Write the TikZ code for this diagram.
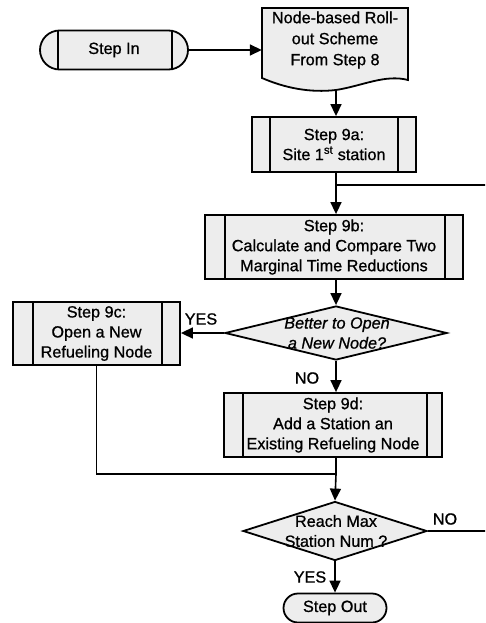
\documentclass[tikz,border=0pt]{standalone}
\usepackage{fontspec}
\setmainfont{Liberation Sans}[FakeBold=0.9]
\usetikzlibrary{shapes.geometric,shapes.misc,arrows.meta}

\begin{document}
\begin{tikzpicture}[x=1pt,y=-1pt,
  font=\fontsize{16.2}{20}\selectfont,
  shapefill/.style={fill=black!7},
  outline/.style={draw, line width=1.8pt, shapefill},
  sidebars/.style 2 args={path picture={
      \draw[line width=1.7pt]
        ([xshift=#1]path picture bounding box.north west) --
        ([xshift=#1]path picture bounding box.south west)
        ([xshift=-#2]path picture bounding box.north east) --
        ([xshift=-#2]path picture bounding box.south east);}},
  proc/.style={outline, rectangle, align=center, inner sep=0pt, sidebars={18pt}{18pt}},
  term/.style={outline, rounded rectangle, align=center, inner sep=0pt},
  dec/.style={outline, diamond, inner sep=0pt},
  dectext/.style={align=center, inner sep=0pt},
  lbl/.style={inner sep=0pt},
  line/.style={line width=1.6pt},
  arr/.style={line, -{Triangle[length=12pt,width=11pt]}},
]
\useasboundingbox (0,0) rectangle (485,623);
\clip (0,0) rectangle (485,623);

% start terminal
\node[term, minimum width=148pt, minimum height=39pt, sidebars={18pt}{16pt}]
  (si) at (114,50) {Step In};

% document symbol with wavy base
\draw[outline] (262,8) -- (408,8) -- (408,80)
  .. controls (385,74) and (362,86) .. (336,90)
  .. controls (310,93) and (285,88) .. (262,78) -- cycle;
\node[align=center, inner sep=0pt, minimum width=146pt,
      font=\fontsize{16.2}{21}\selectfont] (doc) at (335,40)
  {Node-based Roll-\\out Scheme\\From Step 8};
\coordinate (docb) at (336,89);

% process steps
\node[proc, minimum width=164pt, minimum height=55pt] (s9a) at (334,144.5)
  {Step 9a:\\Site 1\textsuperscript{st} station};
\node[proc, minimum width=258pt, minimum height=64pt, sidebars={20pt}{18pt}] (s9b) at (334,247)
  {Step 9b:\\Calculate and Compare Two\\Marginal Time Reductions};
\node[proc, minimum width=167pt, minimum height=63pt, sidebars={20pt}{18pt}] (s9c) at (96.5,333.5)
  {Step 9c:\\Open a New\\Refueling Node};
\node[proc, minimum width=218pt, minimum height=64pt, sidebars={19pt}{15pt}] (s9d) at (333,425)
  {Step 9d:\\Add a Station an\\Existing Refueling Node};

% decisions
\node[dec, minimum width=222pt, minimum height=54pt] (d1) at (336,333) {};
\node[dectext, font=\fontsize{16.2}{20}\selectfont\itshape] (d1t) at (337,333)
  {Better to Open\\a New Node?};
\node[dec, minimum width=184pt, minimum height=59pt] (d2) at (335,531) {};
\node[dectext] (d2t) at (336,531) {Reach Max\\Station Num ?};

% end terminal
\node[term, minimum width=103pt, minimum height=29pt] (so) at (335,608) {Step Out};

% junctions
\coordinate (loopj) at (336,185);
\coordinate (j2) at (336,474);

% connectors
\draw[arr] (si.east) -- (si.east -| doc.west);
\draw[arr] (docb) -- (docb |- s9a.north);
\draw[arr] (docb |- s9a.south) -- (docb |- s9b.north);
\draw[arr] (docb |- s9b.south) -- (d1.north);
\draw[arr] (d1.west) -- (d1.west -| s9c.east);
\draw[arr] (d1.south) -- (d1.south |- s9d.north);
\draw[line] (s9c.south) |- (j2);
\draw[line] (d1.south |- s9d.south) -- (j2);
\draw[arr] (j2) -- (d2.north);
\draw[line] (d2.east) -- ++(80,0) |- (loopj);
\draw[arr] (d2.south) -- (so.north);

% branch labels
\node[lbl] (yes1) at (201,319) {YES};
\node[lbl] (no1) at (307,378) {NO};
\node[lbl] (no2) at (445,519) {NO};
\node[lbl] (yes2) at (310,577) {YES};
\end{tikzpicture}
\end{document}
